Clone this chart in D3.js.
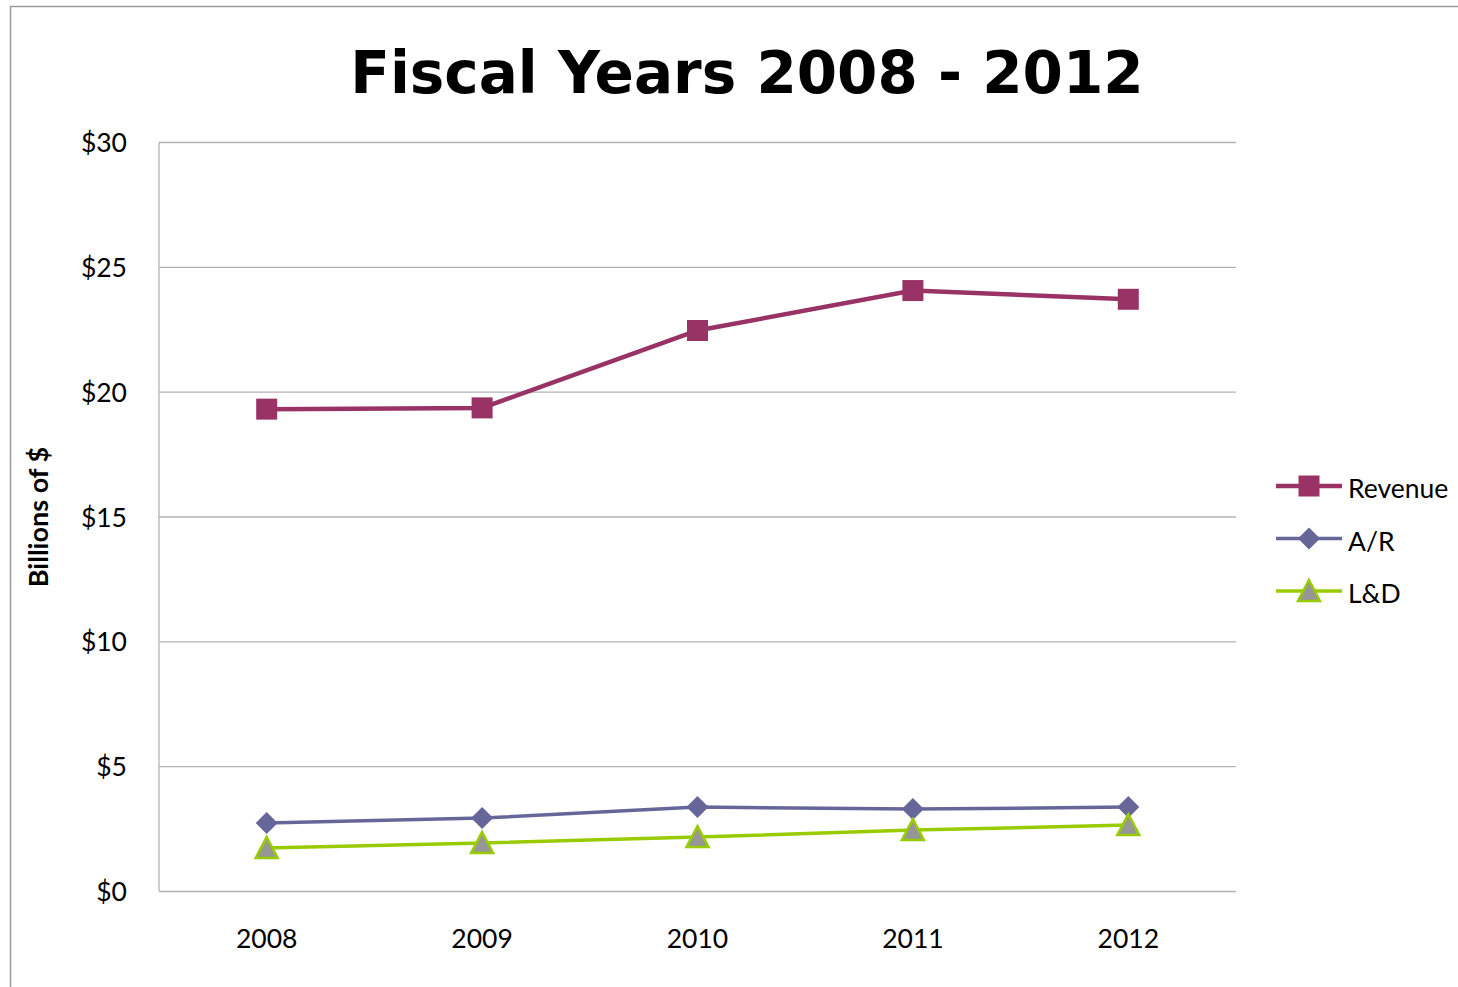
<!DOCTYPE html>
<html>
<head>
<meta charset="utf-8">
<script src="https://cdn.jsdelivr.net/npm/d3@7"></script>
<style>
  html, body { margin: 0; padding: 0; background: #fff; }
  svg text { font-family: Lato, "Noto Sans", sans-serif; }
</style>
</head>
<body>
<svg id="chart" width="1458" height="987"></svg>
<script>
// data (billions of $)
const years = ["2008", "2009", "2010", "2011", "2012"];
const revenue = [19.3, 19.35, 22.45, 24.05, 23.7];
const ar = [2.72, 2.92, 3.36, 3.28, 3.36];
const ld = [1.72, 1.92, 2.16, 2.44, 2.64];
const yTicks = [0, 5, 10, 15, 20, 25, 30];

const series = [
  { name: "Revenue", values: revenue, color: "#993366", shape: "square" },
  { name: "A/R", values: ar, color: "#666699", shape: "diamond" },
  { name: "L&D", values: ld, color: "#99CC00", shape: "triangle" }
];

const svg = d3.select("#chart"),
    margin = { top: 142, left: 159 },
    width = 1077,
    height = 749;

// outer chart frame
svg.append("rect")
    .attr("x", 10.5).attr("y", 6.5)
    .attr("width", 1500).attr("height", 1100)
    .attr("fill", "none").attr("stroke", "#9a9a9a").attr("stroke-width", 1.5);

const g = svg.append("g").attr("transform", `translate(${margin.left},${margin.top})`);

const x = d3.scaleBand().domain(years).range([0, width]);
const y = d3.scaleLinear().domain([0, 30]).range([height, 0]);

// gridlines
g.append("g")
    .call(d3.axisLeft(y).tickValues(yTicks).tickSize(-width).tickFormat(""))
    .call(a => a.select(".domain").remove())
    .selectAll("line").attr("stroke", "#b3b3b3").attr("stroke-width", 1.3);

// left axis line
g.append("line")
    .attr("x1", 0).attr("x2", 0).attr("y1", 0).attr("y2", height)
    .attr("stroke", "#b3b3b3").attr("stroke-width", 1.3);

// y tick labels
g.selectAll(".ylab")
    .data(yTicks)
    .join("text")
    .attr("x", -32)
    .attr("y", d => y(d) + 10)
    .attr("text-anchor", "end")
    .style("font-size", "26.5px")
    .text(d => "$" + d);

// x labels
g.selectAll(".xlab")
    .data(years)
    .join("text")
    .attr("x", d => x(d) + x.bandwidth() / 2)
    .attr("y", height + 57)
    .attr("text-anchor", "middle")
    .style("font-size", "26.5px")
    .text(d => d);

// title
svg.append("text")
    .attr("x", 747).attr("y", 93)
    .attr("text-anchor", "middle")
    .style("font-family", "'DejaVu Sans', Verdana, sans-serif")
    .style("font-weight", "bold")
    .style("font-size", "58px")
    .text("Fiscal Years 2008 - 2012");

// y-axis title
svg.append("text")
    .attr("transform", "translate(48,517) rotate(-90)")
    .attr("text-anchor", "middle")
    .style("font-weight", "bold")
    .style("font-size", "27px")
    .text("Billions of $");

function drawMarker(sel, shape, color) {
  if (shape === "square") {
    sel.append("rect")
      .attr("x", -10.5).attr("y", -10.5).attr("width", 21).attr("height", 21)
      .attr("fill", color);
  } else if (shape === "diamond") {
    sel.append("path")
      .attr("d", "M0,-11L11,0L0,11L-11,0Z")
      .attr("fill", color);
  } else {
    sel.append("path")
      .attr("d", "M0,-11L11,10L-11,10Z")
      .attr("fill", "#969696").attr("stroke", color).attr("stroke-width", 2.5);
  }
}

const line = d3.line()
    .x((d, i) => x(years[i]) + x.bandwidth() / 2)
    .y(d => y(d));

series.forEach(s => {
  g.append("path")
    .attr("d", line(s.values))
    .attr("fill", "none")
    .attr("stroke", s.color)
    .attr("stroke-width", s.shape === "square" ? 4.5 : 3.5);

  g.selectAll(null)
    .data(s.values)
    .join("g")
    .attr("transform", (d, i) => `translate(${x(years[i]) + x.bandwidth() / 2},${y(d)})`)
    .each(function () { drawMarker(d3.select(this), s.shape, s.color); });
});

// legend
const legend = svg.append("g").attr("transform", "translate(1276,486)");
series.forEach((s, i) => {
  const row = legend.append("g").attr("transform", `translate(0,${i * 52.5})`);
  row.append("line")
    .attr("x1", 0).attr("x2", 66)
    .attr("stroke", s.color)
    .attr("stroke-width", s.shape === "square" ? 4.5 : 3.5);
  const m = row.append("g").attr("transform", "translate(33,0)");
  drawMarker(m, s.shape, s.color);
  row.append("text")
    .attr("x", 72).attr("y", 12)
    .style("font-size", "26.5px")
    .text(s.name);
});
</script>
</body>
</html>
